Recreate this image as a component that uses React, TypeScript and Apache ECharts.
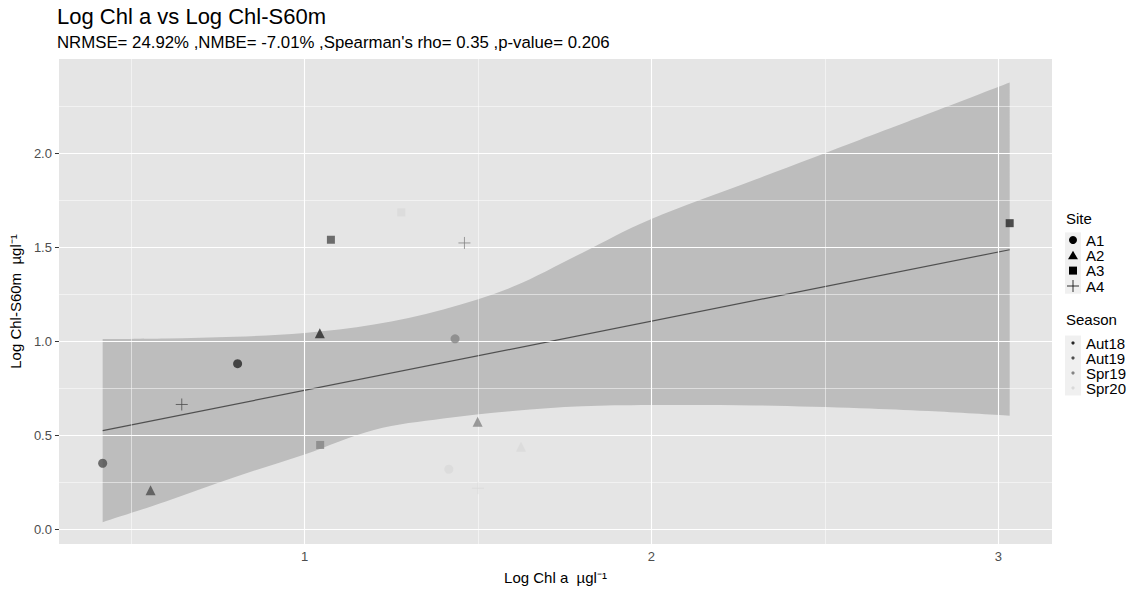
import React, { useEffect, useRef } from "react";
import * as echarts from "echarts";

// ---- data ----
const sites = ["A1", "A2", "A3", "A4"];
const seasons = ["Aut18", "Aut19", "Spr19", "Spr20"];

const pointSite = ["A1", "A2", "A3", "A1", "A2", "A3", "A4", "A1", "A2", "A3", "A4", "A1", "A2", "A3", "A4"];
const pointSeason = ["Aut18", "Aut18", "Aut18", "Aut19", "Aut19", "Aut19", "Aut19", "Spr19", "Spr19", "Spr19", "Spr19", "Spr20", "Spr20", "Spr20", "Spr20"];
const logChlA = [0.807, 1.044, 3.033, 0.418, 0.556, 1.076, 0.646, 1.434, 1.499, 1.045, 1.461, 1.416, 1.624, 1.279, 1.5];
const logChlS60m = [0.882, 1.044, 1.628, 0.353, 0.21, 1.54, 0.665, 1.014, 0.573, 0.45, 1.523, 0.321, 0.441, 1.685, 0.22];

// fitted line (ends)
const fitX = [0.418, 3.033];
const fitY = [0.526, 1.487];

// confidence band
const bandX = [0.418, 0.6, 0.8, 1.0, 1.2, 1.4, 1.6, 1.8, 2.0, 2.3, 2.6, 2.8, 3.033];
const bandUpper = [1.013, 1.016, 1.025, 1.045, 1.09, 1.17, 1.29, 1.47, 1.65, 1.86, 2.07, 2.21, 2.375];
const bandLower = [0.04, 0.15, 0.28, 0.4, 0.53, 0.59, 0.63, 0.655, 0.662, 0.66, 0.645, 0.63, 0.605];

const xMajor = [1, 2, 3];
const xMinor = [0.5, 1.5, 2.5];
const yMajor = [0, 0.5, 1, 1.5, 2];
const yMinor = [0.25, 0.75, 1.25, 1.75, 2.25];

const seasonColors: Record<string, string> = {
  Aut18: "#262626",
  Aut19: "#4d4d4d",
  Spr19: "#848484",
  Spr20: "#d9d9d9",
};
const siteSymbols: Record<string, string> = {
  A1: "circle",
  A2: "triangle",
  A3: "rect",
  A4: "path://M0,6H12M6,0V12",
};
const siteSizes: Record<string, number> = { A1: 9, A2: 10, A3: 8, A4: 12 };

const FONT = "'Liberation Sans', Arial, sans-serif";

// smooth path through points (Catmull-Rom -> cubic Bezier), continuing an existing path
function smoothSegs(pts: number[][]): string {
  let d = "";
  for (let i = 0; i < pts.length - 1; i++) {
    const p0 = pts[Math.max(0, i - 1)];
    const p1 = pts[i];
    const p2 = pts[i + 1];
    const p3 = pts[Math.min(pts.length - 1, i + 2)];
    const c1x = p1[0] + (p2[0] - p0[0]) / 6;
    const c1y = p1[1] + (p2[1] - p0[1]) / 6;
    const c2x = p2[0] - (p3[0] - p1[0]) / 6;
    const c2y = p2[1] - (p3[1] - p1[1]) / 6;
    d += `C${c1x},${c1y},${c2x},${c2y},${p2[0]},${p2[1]}`;
  }
  return d;
}

export default function App() {
  const ref = useRef<HTMLDivElement>(null);
  useEffect(() => {
    if (!ref.current) return;
    const chart = echarts.init(ref.current, null, { renderer: "svg" });

    const gridLineData = [
      ...xMajor.map((v) => ({ xAxis: v, lineStyle: { width: 1.1 } })),
      ...xMinor.map((v) => ({ xAxis: v, lineStyle: { width: 0.5 } })),
      ...yMajor.map((v) => ({ yAxis: v, lineStyle: { width: 1.1 } })),
      ...yMinor.map((v) => ({ yAxis: v, lineStyle: { width: 0.5 } })),
    ];

    const scatterSeries = sites.map((site) => {
      const data: any[] = [];
      logChlA.forEach((x, i) => {
        if (pointSite[i] !== site) return;
        const c = seasonColors[pointSeason[i]];
        data.push({
          value: [x, logChlS60m[i]],
          name: pointSeason[i],
          itemStyle:
            site === "A4"
              ? { color: "rgba(0,0,0,0)", borderColor: c, borderWidth: 1 }
              : { color: c, borderWidth: 0 },
        });
      });
      return {
        type: "scatter",
        name: site,
        symbol: siteSymbols[site],
        symbolSize: siteSizes[site],
        data,
        z: 5,
      };
    });

    const legendItems: any[] = [];
    const kx = 1065;
    const LF = `15px ${FONT}`;
    legendItems.push({ type: "text", x: 1066, y: 218, style: { text: "Site", font: LF, fill: "#000", verticalAlign: "middle" } });
    const siteRows = [240, 255.3, 270.6, 286];
    legendItems.push({ type: "rect", shape: { x: kx, y: siteRows[0] - 7.6, width: 16, height: siteRows[3] - siteRows[0] + 15.3 }, style: { fill: "#f0f0f0" } });
    siteRows.forEach((cy, i) => {
      const cx = kx + 8;
      const s = sites[i];
      if (s === "A1") legendItems.push({ type: "circle", shape: { cx, cy, r: 4 }, style: { fill: "#000" } });
      if (s === "A2") legendItems.push({ type: "polygon", shape: { points: [[cx, cy - 4.5], [cx - 5, cy + 4], [cx + 5, cy + 4]] }, style: { fill: "#000" } });
      if (s === "A3") legendItems.push({ type: "rect", shape: { x: cx - 4, y: cy - 4, width: 8, height: 8 }, style: { fill: "#000" } });
      if (s === "A4") {
        legendItems.push({ type: "line", shape: { x1: cx - 6, y1: cy, x2: cx + 6, y2: cy }, style: { stroke: "#000", lineWidth: 0.8 } });
        legendItems.push({ type: "line", shape: { x1: cx, y1: cy - 6, x2: cx, y2: cy + 6 }, style: { stroke: "#000", lineWidth: 0.8 } });
      }
      legendItems.push({ type: "text", x: 1086, y: cy, style: { text: s, font: LF, fill: "#000", verticalAlign: "middle" } });
    });
    legendItems.push({ type: "text", x: 1066, y: 319, style: { text: "Season", font: LF, fill: "#000", verticalAlign: "middle" } });
    const seasonRows = [343, 358, 373, 388];
    legendItems.push({ type: "rect", shape: { x: kx, y: seasonRows[0] - 7.5, width: 16, height: seasonRows[3] - seasonRows[0] + 15 }, style: { fill: "#f0f0f0" } });
    seasonRows.forEach((cy, i) => {
      const s = seasons[i];
      legendItems.push({ type: "circle", shape: { cx: kx + 8, cy, r: 1.6 }, style: { fill: seasonColors[s] } });
      legendItems.push({ type: "text", x: 1086, y: cy, style: { text: s, font: LF, fill: "#000", verticalAlign: "middle" } });
    });

    const option: any = {
      animation: false,
      textStyle: { fontFamily: FONT },
      grid: {
        left: 57,
        right: 86,
        top: 59,
        bottom: 50,
        show: true,
        backgroundColor: "#e5e5e5",
        borderWidth: 0,
      },
      xAxis: {
        type: "value",
        min: 0.292,
        max: 3.155,
        axisLine: { show: false },
        splitLine: { show: false },
        axisTick: { show: true, customValues: xMajor, length: 4, lineStyle: { color: "#333", width: 1 } },
        axisLabel: { customValues: xMajor, color: "#4d4d4d", fontSize: 13, margin: 6, fontFamily: FONT },
        name: "Log Chl a  µgl⁻¹",
        nameLocation: "middle",
        nameGap: 26,
        nameTextStyle: { fontSize: 15, color: "#000", fontFamily: FONT },
      },
      yAxis: {
        type: "value",
        min: -0.076,
        max: 2.5,
        axisLine: { show: false },
        splitLine: { show: false },
        axisTick: { show: true, customValues: yMajor, length: 4, lineStyle: { color: "#333", width: 1 } },
        axisLabel: {
          customValues: yMajor,
          color: "#4d4d4d",
          fontSize: 13,
          margin: 7,
          fontFamily: FONT,
          formatter: (v: number) => v.toFixed(1),
        },
        name: "Log Chl-S60m  µgl⁻¹",
        nameLocation: "middle",
        nameGap: 25,
        nameRotate: 90,
        nameTextStyle: { fontSize: 15, color: "#000", fontFamily: FONT },
      },
      graphic: [
        { type: "text", x: 57, y: 16, style: { text: "Log Chl a vs Log Chl-S60m", font: `22px ${FONT}`, fill: "#000", verticalAlign: "middle" } },
        { type: "text", x: 57, y: 42, style: { text: "NRMSE= 24.92% ,NMBE= -7.01% ,Spearman's rho= 0.35 ,p-value= 0.206", font: `16.8px ${FONT}`, fill: "#000", verticalAlign: "middle" } },
        ...legendItems,
      ],
      series: [
        {
          type: "scatter",
          data: [],
          z: 1,
          silent: true,
          markLine: {
            silent: true,
            symbol: ["none", "none"],
            label: { show: false },
            lineStyle: { color: "#ffffff", type: "solid" },
            data: gridLineData,
          },
        },
        {
          type: "custom",
          z: 2,
          silent: true,
          data: bandX.map((x, i) => [x, bandLower[i], bandUpper[i]]),
          encode: { x: 0, y: [1, 2] },
          renderItem: (params: any, api: any) => {
            if (params.dataIndex !== 0) return null;
            const up: number[][] = bandX.map((x, i) => api.coord([x, bandUpper[i]]));
            const lo: number[][] = bandX.map((x, i) => api.coord([x, bandLower[i]])).reverse();
            const d =
              `M${up[0][0]},${up[0][1]}` +
              smoothSegs(up) +
              `L${lo[0][0]},${lo[0][1]}` +
              smoothSegs(lo) +
              "Z";
            return { type: "path", shape: { pathData: d }, style: { fill: "#bdbdbd" } };
          },
        },
        {
          type: "line",
          z: 3,
          data: fitX.map((x, i) => [x, fitY[i]]),
          symbol: "none",
          lineStyle: { color: "#505050", width: 1.2 },
        },
        ...scatterSeries,
      ],
    };
    chart.setOption(option);
    return () => chart.dispose();
  }, []);
  return <div ref={ref} style={{ width: 1138, height: 594, position: "absolute", left: 0, top: 0 }} />;
}
